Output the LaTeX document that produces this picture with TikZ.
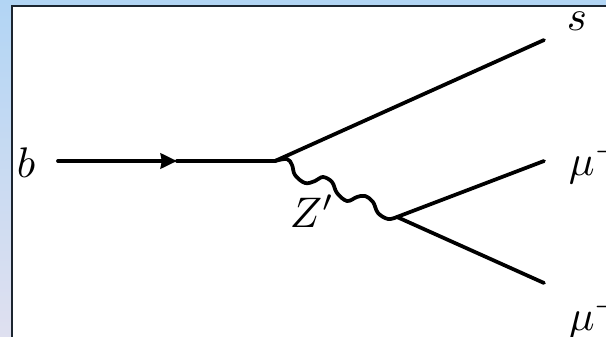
\documentclass[tikz,border=0pt]{standalone}
\usepackage{amsmath,amssymb}
\usetikzlibrary{arrows.meta,positioning,calc}
\definecolor{ink}{HTML}{000000}
\definecolor{frame}{HTML}{1C2530}
\definecolor{skytop}{HTML}{B2D5F4}
\definecolor{skybot}{HTML}{DFE0F0}
\tikzset{wire/.style={line width=3.2pt,draw=ink,line cap=round,line join=round},
  lbl/.style={anchor=base west,inner sep=0pt,scale=3.65}}
\begin{document}
\begin{tikzpicture}[x=.03cm,y=-.03cm]
\useasboundingbox (0,0) rectangle (606,337);
\clip (0,0) rectangle (606,337);
\shade[top color=skytop,bottom color=skybot] (0,0) rectangle (12,337);
\fill[skytop] (12,0) rectangle (606,6);
\filldraw[fill=white,draw=frame,line width=1.2pt] (12,6) rectangle (620,350);
% vertices and free ends
\coordinate (bin) at (58,161);
\coordinate (tip) at (177,161);
\coordinate (vb) at (275,161);
\coordinate (vz) at (397,217);
\coordinate (send) at (544,40);
\coordinate (muend) at (544,161);
\coordinate (muplus) at (544,283);
% fermion lines
\draw[wire,-{Stealth[length=14pt,width=13pt,inset=1pt]}] (bin)--(tip);
\draw[wire] (tip)--(vb);
\draw[wire] (vb)--(send);
\draw[wire] (vz)--(muend);
\draw[wire] (vz)--(muplus);
% Z' propagator
\draw[wire] plot[smooth,tension=.6] coordinates {(vb) (287,159) (292,165) (295,175) (305,183) (315,181) (323,177) (332,182) (337,193) (347,201) (357,197) (365,196) (373,202) (378,213) (388,219) (vz)};
% labels
\node[lbl] (lb) at (16,177) {$b$};
\node[lbl] (ls) at (566,30) {$s$};
\node[lbl] (lm) at (568,175) {$\mu^-$};
\node[lbl] (lp) at (568,330) {$\mu^+$};
\node[lbl] (lz) at (289,227) {$Z'$};
\end{tikzpicture}
\end{document}
